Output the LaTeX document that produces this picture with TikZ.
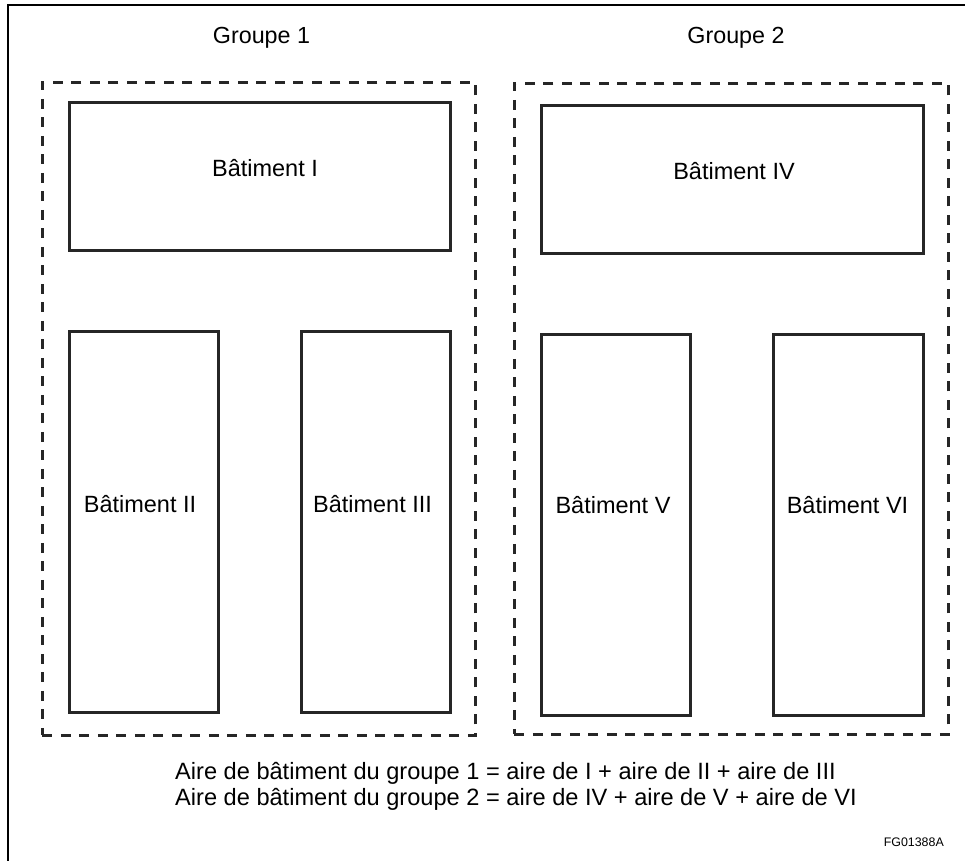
\documentclass[tikz,border=0pt]{standalone}
\usepackage{fontspec}
\setmainfont{Liberation Sans}
\begin{document}
\begin{tikzpicture}[x=1pt,y=-1pt,
  bldg/.style={draw=black!85, line width=2.8pt, inner sep=0pt, anchor=north west},
  grp/.style={draw=black!85, line width=2.6pt, dash pattern=on 10pt off 8.5pt, inner sep=0pt, anchor=north west},
  lbl/.style={inner sep=0pt, anchor=base, font=\fontsize{23.5}{28}\selectfont},
  glbl/.style={inner sep=0pt, anchor=base, font=\fontsize{23.3}{28}\selectfont},
  flbl/.style={inner sep=0pt, anchor=base west, font=\fontsize{23.6}{28}\selectfont},
  frame/.style={draw=black, line width=2pt}]
\useasboundingbox (0,0) rectangle (969,861);
% frame
\coordinate (fb) at (8,861);
\coordinate (fc) at (8,5);
\coordinate (fr) at (965,5);
\draw[frame] (fb) -- (fc) -- (fr);
% group boxes
\node[grp, minimum width=433pt, minimum height=653pt] (g1) at (41,81) {};
\node[grp, minimum width=434pt, minimum height=651pt] (g2) at (513,82) {};
% buildings
\node[bldg, minimum width=381pt, minimum height=148pt] (b1) at (68,101) {};
\node[bldg, minimum width=149pt, minimum height=381pt] (b2) at (68,330) {};
\node[bldg, minimum width=149pt, minimum height=381pt] (b3) at (300,330) {};
\node[bldg, minimum width=382pt, minimum height=148pt] (b4) at (540,104) {};
\node[bldg, minimum width=149pt, minimum height=381pt] (b5) at (540,333) {};
\node[bldg, minimum width=150pt, minimum height=381pt] (b6) at (772,333) {};
% labels
\node[glbl] (t1) at (261.5,43.3) {Groupe 1};
\node[glbl] (t2) at (736,43.3) {Groupe 2};
\node[lbl] (l1) at (265,176.7) {Bâtiment I};
\node[lbl] (l4) at (734,180) {Bâtiment IV};
\node[lbl] (l2) at (140,512.7) {Bâtiment II};
\node[lbl] (l3) at (372.5,512.7) {Bâtiment III};
\node[lbl] (l5) at (613,513) {Bâtiment V};
\node[lbl] (l6) at (847.5,513) {Bâtiment VI};
% formulas
\node[flbl] (f1) at (175,779.5) {Aire de bâtiment du groupe 1 = aire de I + aire de II + aire de III};
\node[flbl] (f2) at (175,805.7) {Aire de bâtiment du groupe 2 = aire de IV + aire de V + aire de VI};
\node[inner sep=0pt, anchor=base east, font=\fontsize{12.4}{15}\selectfont] (fg) at (944,846) {FG01388A};
\end{tikzpicture}
\end{document}
